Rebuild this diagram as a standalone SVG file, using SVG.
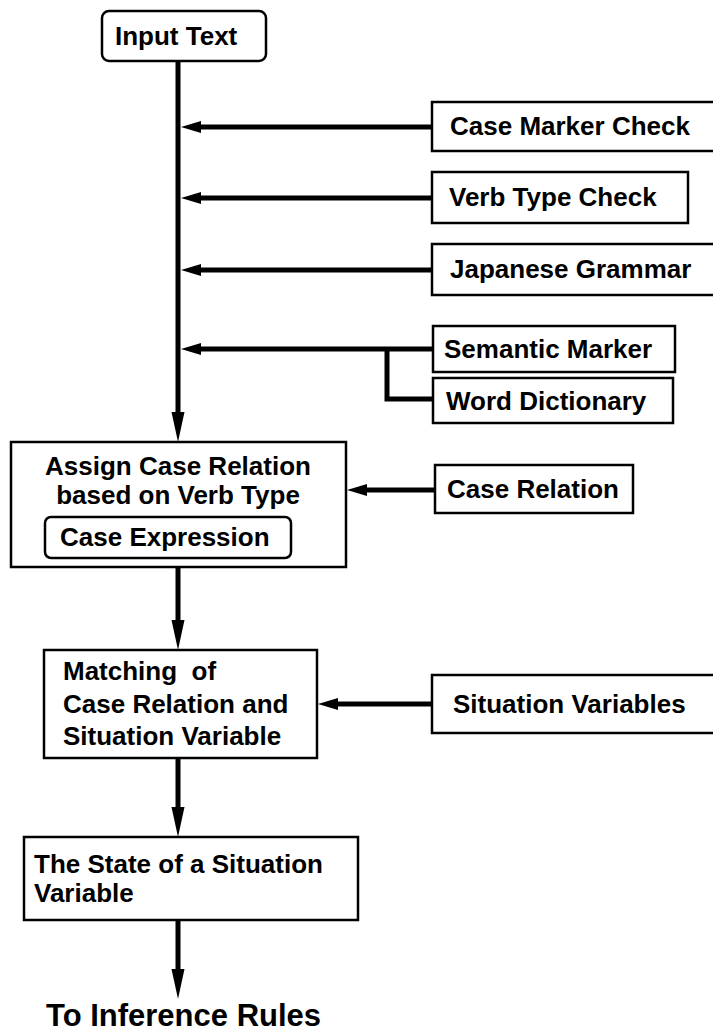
<svg xmlns="http://www.w3.org/2000/svg" width="713" height="1031" viewBox="0 0 713 1031">
  <style>
    .box { fill: #ffffff; stroke: #000000; stroke-width: 2.5; }
    .lbl { font-family: "Liberation Sans", Arial, Helvetica, sans-serif; font-weight: bold; font-size: 26px; fill: #000000; }
    .big { font-size: 31px; }
    .wire { fill: none; stroke: #000000; stroke-width: 5; }
    .head { fill: #000000; stroke: none; }
  </style>
  <defs>
    <!-- filled arrowheads pointing left and down -->
    <polygon id="ah-left" points="0,0 20,-6 20,6"/>
    <polygon id="ah-down" points="0,0 -6.5,-30 6.5,-30"/>
  </defs>

  <rect width="713" height="1031" fill="#ffffff"/>

  <!-- connectors -->
  <g id="connectors">
    <!-- main spine from Input Text to the case-assignment box -->
    <line class="wire" x1="178" y1="61" x2="178" y2="420"/>
    <use href="#ah-down" class="head" x="178" y="442"/>

    <!-- knowledge sources feeding the spine -->
    <line class="wire" x1="432" y1="127" x2="195" y2="127"/>
    <use href="#ah-left" class="head" x="181" y="127"/>
    <line class="wire" x1="432" y1="198" x2="195" y2="198"/>
    <use href="#ah-left" class="head" x="181" y="198"/>
    <line class="wire" x1="432" y1="270" x2="195" y2="270"/>
    <use href="#ah-left" class="head" x="181" y="270"/>
    <line class="wire" x1="433" y1="349" x2="195" y2="349"/>
    <use href="#ah-left" class="head" x="181" y="349"/>
    <polyline class="wire" points="387,349 387,399 433,399"/>

    <!-- Case Relation into the assignment box -->
    <line class="wire" x1="435" y1="490" x2="362" y2="490"/>
    <use href="#ah-left" class="head" x="347" y="490"/>

    <!-- assignment to matching -->
    <line class="wire" x1="178" y1="567" x2="178" y2="625"/>
    <use href="#ah-down" class="head" x="178" y="650"/>

    <!-- Situation Variables into matching -->
    <line class="wire" x1="432" y1="704" x2="333" y2="704"/>
    <use href="#ah-left" class="head" x="318" y="704"/>

    <!-- matching to state -->
    <line class="wire" x1="178" y1="758" x2="178" y2="812"/>
    <use href="#ah-down" class="head" x="178" y="837"/>

    <!-- state to inference rules -->
    <line class="wire" x1="178" y1="920" x2="178" y2="975"/>
    <use href="#ah-down" class="head" x="178" y="999"/>
  </g>

  <g id="input-text">
    <rect class="box" x="102" y="11" width="164" height="50" rx="7"/>
    <text class="lbl" x="115" y="45">Input Text</text>
  </g>

  <g id="case-marker-check">
    <rect class="box" x="432" y="102" width="290" height="49"/>
    <text class="lbl" x="450" y="135">Case Marker Check</text>
  </g>

  <g id="verb-type-check">
    <rect class="box" x="432" y="172" width="256" height="51"/>
    <text class="lbl" x="449" y="206">Verb Type Check</text>
  </g>

  <g id="japanese-grammar">
    <rect class="box" x="432" y="244" width="290" height="51"/>
    <text class="lbl" x="450" y="278">Japanese Grammar</text>
  </g>

  <g id="semantic-marker">
    <rect class="box" x="433" y="326" width="242" height="46"/>
    <text class="lbl" x="444" y="358">Semantic Marker</text>
  </g>

  <g id="word-dictionary">
    <rect class="box" x="433" y="378" width="240" height="45"/>
    <text class="lbl" x="446" y="410">Word Dictionary</text>
  </g>

  <g id="assign-case-relation">
    <rect class="box" x="11" y="442" width="335" height="125"/>
    <text class="lbl" x="178" y="475" text-anchor="middle">Assign Case Relation</text>
    <text class="lbl" x="178" y="504" text-anchor="middle">based on Verb Type</text>
    <g id="case-expression">
      <rect class="box" x="45" y="517" width="246" height="41" rx="6"/>
      <text class="lbl" x="60" y="546">Case Expression</text>
    </g>
  </g>

  <g id="case-relation">
    <rect class="box" x="435" y="465" width="198" height="48"/>
    <text class="lbl" x="447" y="498">Case Relation</text>
  </g>

  <g id="matching">
    <rect class="box" x="44" y="650" width="273" height="108"/>
    <text class="lbl" x="63" y="680" xml:space="preserve">Matching  of</text>
    <text class="lbl" x="63" y="713">Case Relation and</text>
    <text class="lbl" x="63" y="745">Situation Variable</text>
  </g>

  <g id="situation-variables">
    <rect class="box" x="432" y="675" width="290" height="58"/>
    <text class="lbl" x="453" y="713">Situation Variables</text>
  </g>

  <g id="situation-state">
    <rect class="box" x="24" y="837" width="334" height="83"/>
    <text class="lbl" x="34" y="873">The State of a Situation</text>
    <text class="lbl" x="34" y="902">Variable</text>
  </g>

  <g id="inference-rules">
    <text class="lbl big" x="46" y="1026">To Inference Rules</text>
  </g>
</svg>
